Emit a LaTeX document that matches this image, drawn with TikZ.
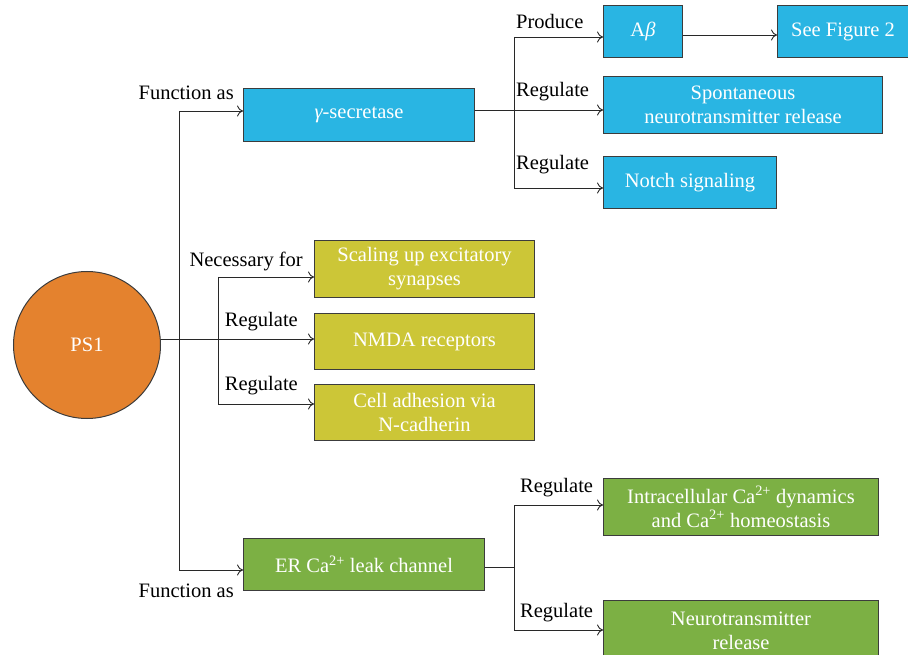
\documentclass[tikz,border=0pt]{standalone}
\usepackage{fontspec}
\setmainfont{Liberation Serif}
\usetikzlibrary{arrows.meta}
\definecolor{cblue}{RGB}{41,181,227}
\definecolor{cyel}{RGB}{204,198,55}
\definecolor{cgreen}{RGB}{124,176,68}
\definecolor{corange}{RGB}{228,130,46}
\definecolor{bordc}{RGB}{60,60,60}
\definecolor{linec}{RGB}{40,40,40}
\begin{document}
\begin{tikzpicture}[x=1pt,y=-1pt,
  bx/.style={draw=bordc, line width=1pt, text=white, inner sep=0pt, align=center, anchor=north west, font=\fontsize{20.5}{24}\selectfont},
  lbl/.style={inner sep=0pt, text=black, font=\fontsize{20.5}{24}\selectfont},
  arr/.style={-{To[length=6pt,width=11pt]}, line width=0.9pt, draw=linec},
  ln/.style={line width=0.9pt, draw=linec}]
\useasboundingbox (0,0) rectangle (908,655);
\clip (0,0) rectangle (908,655);
% PS1
\node[circle, draw=bordc, line width=1pt, fill=corange, minimum size=147pt, inner sep=0pt, text=white, font=\fontsize{20.5}{24}\selectfont] (ps1) at (87,345) {PS1};
% blue
\node[bx, fill=cblue, minimum width=231pt, minimum height=53pt] (gs) at (243,88) {{\itshape γ}-secretase};
\node[bx, fill=cblue, minimum width=79pt, minimum height=52pt] (ab) at (603,5) {A{\itshape β}};
\node[bx, fill=cblue, minimum width=131pt, minimum height=52pt] (fig) at (777,5) {See Figure 2};
\node[bx, fill=cblue, minimum width=279pt, minimum height=57pt] (spont) at (603,76) {Spontaneous\\neurotransmitter release};
\node[bx, fill=cblue, minimum width=173pt, minimum height=52pt] (notch) at (603,156) {Notch signaling};
% yellow
\node[bx, fill=cyel, minimum width=220pt, minimum height=57pt] (scal) at (314,240) {Scaling up excitatory\\synapses};
\node[bx, fill=cyel, minimum width=220pt, minimum height=56pt] (nmda) at (314,313) {NMDA receptors};
\node[bx, fill=cyel, minimum width=220pt, minimum height=56pt] (cell) at (314,384) {Cell adhesion via\\N-cadherin};
% green
\node[bx, fill=cgreen, minimum width=241pt, minimum height=52pt] (er) at (243,538) {ER Ca\textsuperscript{2+} leak channel};
\node[bx, fill=cgreen, minimum width=275pt, minimum height=57pt] (intra) at (603,478) {Intracellular Ca\textsuperscript{2+} dynamics\\and Ca\textsuperscript{2+} homeostasis};
\node[bx, fill=cgreen, minimum width=275pt, minimum height=60pt] (neuro) at (603,600) {Neurotransmitter\\release};
% trunk
\coordinate (ta) at (179,111);
\coordinate (tb) at (179,570);
\coordinate (tm) at (179,339);
\coordinate (ya) at (218,339);
\coordinate (y1) at (218,277);
\coordinate (y3) at (218,404);
\draw[ln] (ps1.east |- tm) -- (ya);
\draw[arr] (ta) -- (ta -| gs.west);
\draw[ln] (ta) -- (tb);
\draw[arr] (tb) -- (tb -| er.west);
\draw[arr] (y1) -- (y1 -| scal.west);
\draw[arr] (ya) -- (ya -| nmda.west);
\draw[arr] (y3) -- (y3 -| cell.west);
\draw[ln] (y1) -- (y3);
% blue branch
\coordinate (bm) at (514,110);
\coordinate (b1) at (514,37);
\coordinate (b3) at (514,188);
\draw[ln] (gs.east |- bm) -- (bm);
\draw[ln] (b1) -- (b3);
\draw[arr] (b1) -- (b1 -| ab.west);
\draw[arr] (bm) -- (bm -| spont.west);
\draw[arr] (b3) -- (b3 -| notch.west);
\coordinate (abm) at (683,35);
\draw[arr] (ab.east |- abm) -- (abm -| fig.west);
% green branch
\coordinate (gm) at (514,567);
\coordinate (g1) at (514,505);
\coordinate (g3) at (514,630);
\draw[ln] (er.east |- gm) -- (gm);
\draw[ln] (g1) -- (g3);
\draw[arr] (g1) -- (g1 -| intra.west);
\draw[arr] (g3) -- (g3 -| neuro.west);
% labels
\node[lbl, anchor=east] (l1) at (234,93) {Function as};
\node[lbl, anchor=east] (l2) at (234,591) {Function as};
\node[lbl, anchor=west] (l3) at (516,21) {Produce};
\node[lbl, anchor=west] (l4) at (516,92) {Regulate};
\node[lbl, anchor=west] (l5) at (516,165) {Regulate};
\node[lbl, anchor=east] (l6) at (303,261) {Necessary for};
\node[lbl, anchor=east] (l7) at (298,322) {Regulate};
\node[lbl, anchor=east] (l8) at (298,386) {Regulate};
\node[lbl, anchor=west] (l9) at (520,488) {Regulate};
\node[lbl, anchor=west] (l10) at (520,613) {Regulate};
\end{tikzpicture}
\end{document}
